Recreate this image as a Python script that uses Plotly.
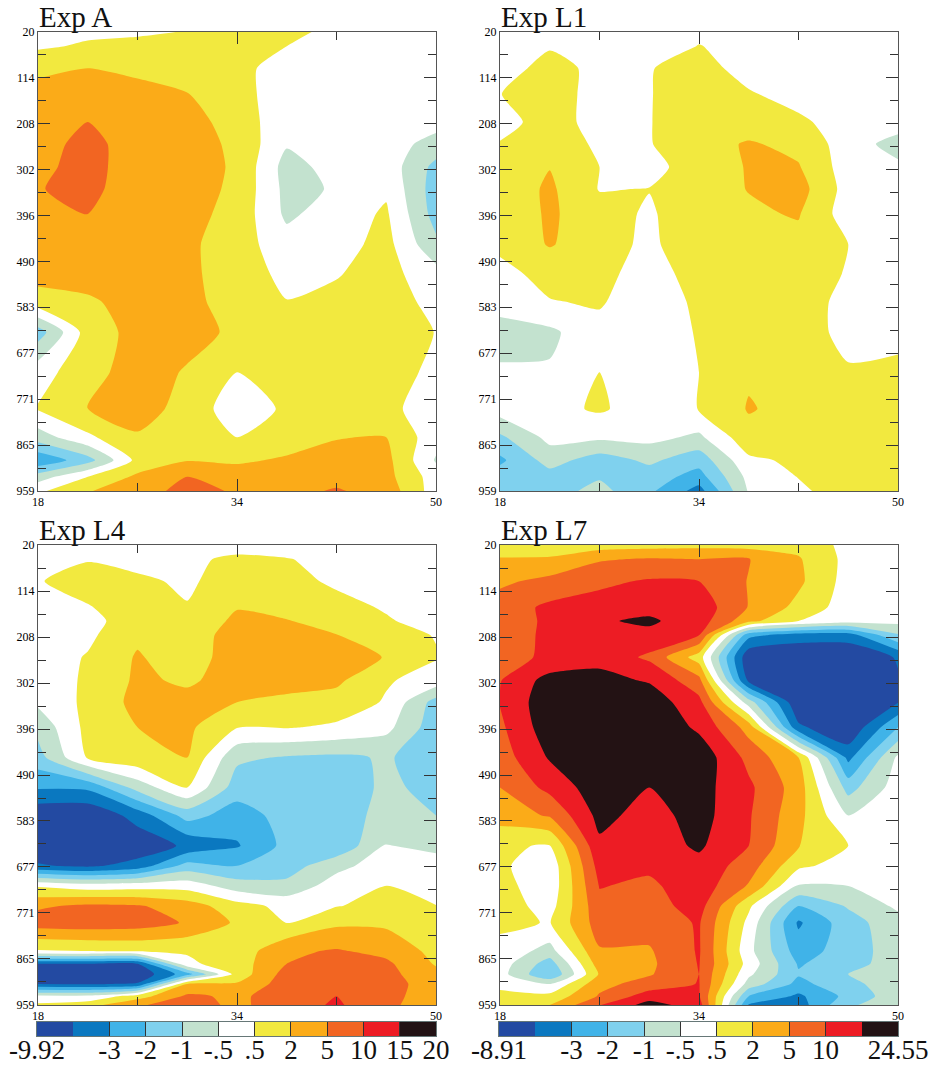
import plotly.graph_objects as go

# Longitudes (x) and levels (y) of the cross-section grids
X_GRID = [18, 22, 26, 30, 34, 38, 42, 46, 50]
Y_TOP = [20, 49, 94, 147, 204, 249, 296, 341, 392, 454, 515, 572, 634, 716, 791, 849, 896, 930, 959]
Y_BOTTOM = [20, 49, 94, 147, 175, 204, 249, 296, 341, 392, 454, 515, 572, 634, 675, 716, 757, 791,
            849, 875, 896, 916, 941, 959]

# Values are read from the colour bands, so they are stored as a position on the
# (evenly boxed) colour bar: 0 = lowest label, 11 = highest label.
EXP_A = [
    [5.7, 5.8, 5.9, 6.03, 6.33, 6.2, 5.8, 5.5, 5.5],
    [5.85, 6.13, 6.2, 6.33, 6.4, 6.0, 5.6, 5.5, 5.5],
    [6.8, 7.0, 6.8, 6.53, 6.33, 5.5, 5.5, 5.5, 5.5],
    [7.3, 7.4, 7.3, 7.03, 6.4, 5.4, 5.5, 5.5, 5.5],
    [7.43, 8.0, 7.43, 7.37, 6.6, 5.3, 5.5, 5.5, 5.4],
    [7.5, 8.4, 7.4, 7.43, 6.8, 5.1, 5.5, 5.5, 4.6],
    [7.67, 8.5, 7.27, 7.43, 6.87, 4.6, 5.4, 5.6, 3.7],
    [7.93, 8.4, 7.2, 7.43, 6.8, 4.7, 5.1, 5.85, 3.5],
    [7.5, 8.03, 7.33, 7.33, 6.67, 4.8, 5.5, 6.13, 3.6],
    [7.4, 7.43, 7.37, 7.2, 6.47, 5.4, 5.6, 6.33, 4.2],
    [7.33, 7.37, 7.43, 7.17, 6.6, 5.7, 5.95, 6.33, 5.4],
    [6.6, 6.87, 7.33, 7.3, 6.53, 6.03, 6.2, 6.47, 5.7],
    [3.5, 6.47, 7.33, 7.37, 6.8, 6.33, 6.47, 6.6, 5.97],
    [5.6, 6.6, 7.5, 6.9, 6.0, 6.23, 6.47, 6.47, 5.75],
    [6.07, 7.03, 7.4, 6.67, 5.4, 6.17, 6.53, 6.3, 5.4],
    [4.5, 5.8, 6.9, 6.4, 6.0, 6.33, 6.93, 7.0, 5.4],
    [2.2, 3.6, 6.3, 6.95, 6.8, 7.17, 7.5, 7.3, 4.9],
    [4.5, 6.0, 7.2, 8.0, 7.67, 7.43, 7.67, 7.33, 5.5],
    [5.8, 6.93, 7.6, 8.3, 7.9, 7.7, 8.1, 7.6, 5.5],
]
EXP_L1 = [
    [5.5, 5.5, 5.5, 5.5, 5.8, 5.5, 5.5, 5.5, 5.5],
    [5.5, 5.9, 5.5, 5.5, 6.03, 5.7, 5.5, 5.5, 5.5],
    [5.5, 6.4, 5.7, 5.95, 6.4, 5.6, 5.5, 5.5, 5.5],
    [5.98, 6.5, 5.6, 5.95, 6.6, 6.1, 5.6, 5.5, 5.5],
    [5.6, 6.47, 5.6, 5.95, 6.73, 6.47, 6.2, 5.5, 5.5],
    [6.07, 6.67, 5.8, 5.95, 6.6, 7.1, 6.73, 5.5, 4.6],
    [6.2, 6.97, 6.0, 5.6, 6.6, 7.05, 7.07, 5.5, 5.2],
    [6.33, 7.17, 5.95, 6.03, 6.6, 7.03, 7.4, 5.6, 5.5],
    [6.27, 7.15, 6.4, 5.87, 6.67, 6.87, 7.07, 5.5, 5.5],
    [6.23, 7.08, 6.4, 5.8, 6.67, 6.67, 6.73, 6.0, 5.5],
    [5.7, 6.33, 6.33, 5.5, 6.47, 6.67, 6.67, 5.9, 5.5],
    [5.3, 5.95, 6.1, 5.4, 6.2, 6.6, 6.47, 5.7, 5.5],
    [4.7, 4.8, 5.7, 5.5, 6.07, 6.53, 6.47, 5.7, 5.5],
    [5.1, 5.1, 6.0, 5.5, 6.0, 6.87, 6.6, 6.1, 6.4],
    [5.5, 5.7, 6.13, 5.5, 6.03, 7.07, 6.67, 6.73, 6.8],
    [3.8, 5.3, 5.2, 5.3, 4.8, 6.67, 6.5, 6.67, 6.8],
    [2.8, 4.4, 3.5, 4.2, 3.4, 5.8, 6.2, 6.67, 6.73],
    [3.5, 3.6, 3.9, 3.5, 2.6, 5.3, 6.03, 6.53, 6.67],
    [3.6, 3.6, 4.3, 3.2, 1.6, 5.1, 5.8, 6.53, 6.67],
]
EXP_L4 = [
    [5.5, 5.5, 5.5, 5.5, 5.6, 5.5, 5.5, 5.5, 5.5],
    [5.5, 5.95, 5.7, 5.8, 6.2, 6.05, 5.7, 5.5, 5.5],
    [5.95, 6.33, 6.17, 5.85, 6.47, 6.33, 5.83, 5.5, 5.5],
    [5.5, 5.95, 6.4, 6.05, 6.95, 6.67, 6.33, 5.9, 5.5],
    [5.5, 5.7, 6.5, 6.3, 7.2, 7.05, 6.6, 6.1, 5.6],
    [5.5, 5.8, 6.8, 6.6, 7.33, 7.5, 7.03, 6.4, 5.95],
    [5.5, 6.07, 7.1, 6.4, 7.6, 7.67, 7.5, 6.95, 6.07],
    [5.5, 6.13, 7.17, 6.85, 7.4, 7.5, 7.2, 6.1, 5.6],
    [5.2, 6.23, 7.3, 7.3, 7.0, 6.7, 6.6, 5.9, 3.6],
    [4.3, 6.3, 7.0, 7.2, 6.05, 6.07, 5.83, 5.3, 3.4],
    [3.6, 6.1, 6.73, 7.0, 4.2, 3.9, 3.8, 4.1, 3.5],
    [2.1, 2.2, 4.4, 6.0, 3.5, 3.4, 3.4, 4.2, 3.7],
    [0.2, 0.1, 1.4, 3.4, 2.5, 3.4, 3.4, 4.4, 4.0],
    [0.3, 0.1, 0.3, 1.2, 1.9, 3.3, 3.2, 5.05, 4.7],
    [1.1, 0.8, 1.4, 3.4, 3.0, 3.5, 4.7, 5.5, 5.5],
    [5.9, 5.5, 5.6, 5.6, 4.5, 4.3, 5.5, 6.02, 5.5],
    [7.85, 8.2, 8.1, 7.5, 6.4, 5.7, 5.97, 6.2, 6.03],
    [8.5, 8.6, 8.5, 7.9, 6.85, 5.98, 6.8, 6.8, 6.5],
    [5.9, 6.0, 6.1, 6.1, 6.4, 7.8, 8.1, 7.7, 6.7],
    [1.0, 1.0, 1.0, 5.8, 6.5, 8.0, 8.5, 8.2, 6.9],
    [0.3, 0.3, 0.2, 2.6, 6.4, 8.4, 8.6, 8.3, 7.3],
    [1.0, 0.9, 1.1, 7.0, 7.1, 8.5, 8.7, 8.4, 7.5],
    [5.2, 5.2, 6.5, 8.2, 7.8, 8.5, 9.0, 8.3, 7.5],
    [6.2, 6.6, 7.9, 8.4, 7.8, 8.5, 9.15, 8.2, 7.5],
]
EXP_L7 = [
    [6.3, 6.5, 6.5, 6.6, 6.7, 6.6, 6.7, 5.7, 5.5],
    [7.1, 7.1, 7.9, 8.1, 8.0, 8.05, 7.1, 5.7, 5.5],
    [7.8, 8.3, 8.8, 9.1, 9.0, 7.95, 7.2, 5.6, 5.5],
    [8.5, 9.2, 9.4, 9.7, 9.6, 7.95, 6.7, 5.5, 5.5],
    [8.7, 9.1, 9.9, 10.15, 9.5, 7.3, 6.0, 5.4, 5.3],
    [8.75, 9.1, 9.6, 9.75, 9.0, 2.3, 1.5, 1.5, 3.9],
    [8.8, 9.1, 9.7, 8.8, 6.5, 0.2, 0.1, 0.1, 1.1],
    [8.95, 10.4, 10.3, 9.9, 8.3, 0.7, 0.05, 0.05, 0.9],
    [9.05, 10.7, 10.9, 10.6, 9.3, 4.5, 0.1, 0.05, 0.95],
    [8.8, 10.6, 10.9, 10.9, 9.8, 7.6, 1.2, 0.1, 3.0],
    [8.5, 10.1, 10.8, 10.7, 10.7, 8.7, 7.0, 1.7, 5.2],
    [8.0, 9.3, 10.6, 10.0, 10.4, 9.2, 7.5, 3.6, 5.5],
    [7.5, 8.1, 10.3, 9.6, 10.4, 9.1, 7.3, 5.0, 5.6],
    [6.05, 5.97, 9.8, 9.5, 10.15, 9.0, 7.05, 6.0, 5.6],
    [6.2, 5.3, 9.4, 9.2, 9.7, 8.5, 6.2, 5.6, 5.6],
    [6.4, 5.3, 9.05, 8.8, 9.6, 7.9, 4.9, 5.0, 5.5],
    [6.5, 5.6, 8.7, 8.6, 9.4, 6.2, 3.0, 4.1, 5.2],
    [6.2, 5.95, 8.5, 8.4, 9.1, 5.7, 1.85, 3.6, 4.6],
    [5.7, 4.6, 7.9, 7.9, 9.1, 5.3, 2.5, 3.5, 4.5],
    [5.5, 3.5, 7.5, 7.8, 9.05, 5.6, 2.9, 3.6, 4.5],
    [5.4, 3.0, 7.1, 7.9, 9.0, 5.2, 3.1, 4.0, 4.5],
    [5.7, 5.0, 7.7, 8.4, 9.05, 4.6, 2.7, 3.7, 4.6],
    [6.3, 6.3, 8.1, 9.5, 9.1, 3.0, 1.8, 3.3, 4.6],
    [6.6, 7.0, 8.95, 10.4, 9.5, 1.9, 1.5, 3.9, 4.4],
]

BAND_COLORS = ["#234aa2", "#0a78c0", "#40b3e8", "#7fd1ee", "#c3e2cf", "#ffffff",
               "#f2e93f", "#fbab18", "#f26522", "#ed1c24", "#231214"]
BAR_TICKS_L4 = [0, 2, 3, 4, 5, 6, 7, 8, 9, 10, 11]
BAR_LABELS_L4 = ["-9.92", "-3", "-2", "-1", "-.5", ".5", "2", "5", "10", "15", "20"]
BAR_TICKS_L7 = [0, 2, 3, 4, 5, 6, 7, 8, 9, 11]
BAR_LABELS_L7 = ["-8.91", "-3", "-2", "-1", "-.5", ".5", "2", "5", "10", "24.55"]
Y_TICKS = [20, 114, 208, 302, 396, 490, 583, 677, 771, 865, 959]
Y_MINOR = [67, 161, 255, 349, 443, 537, 630, 724, 818, 912]
X_TICKS = [18, 34, 50]
X_MINOR = [26, 42]

W, H = 931, 1067
SERIF = "Liberation Serif"
scale = []
for i, c in enumerate(BAND_COLORS):
    scale += [[i / 11, c], [(i + 1) / 11, c]]

panels = [
    ("Exp A", EXP_A, Y_TOP, 38, 436, 32, 491),
    ("Exp L1", EXP_L1, Y_TOP, 500, 898, 32, 491),
    ("Exp L4", EXP_L4, Y_BOTTOM, 38, 436, 545, 1005),
    ("Exp L7", EXP_L7, Y_BOTTOM, 500, 898, 545, 1005),
]
bars = [
    (BAR_TICKS_L4, BAR_LABELS_L4, 37, 436),
    (BAR_TICKS_L7, BAR_LABELS_L7, 499, 898),
]

fig = go.Figure()
layout = dict(width=W, height=H, margin=dict(l=0, r=0, t=0, b=0, autoexpand=False), autosize=False,
              paper_bgcolor="white", plot_bgcolor="white", showlegend=False)
notes = []
for i, (title, z, ys, x0, x1, y0, y1) in enumerate(panels, start=1):
    fig.add_trace(go.Contour(
        x=X_GRID, y=ys, z=z, xaxis=f"x{i}", yaxis=f"y{i}",
        zmin=0, zmax=11, colorscale=scale, showscale=False, hoverinfo="skip",
        contours=dict(start=0, end=11, size=1, coloring="fill", showlines=False),
        line=dict(width=0, smoothing=0.6),
    ))
    layout[f"xaxis{i}"] = dict(
        domain=[x0 / W, x1 / W], anchor=f"y{i}", range=[18, 50], showgrid=False, zeroline=False,
        automargin=False, showline=True, linecolor="#555555", linewidth=1, mirror="allticks",
        layer="above traces", ticks="inside", ticklen=12, tickcolor="#333333", tickvals=X_TICKS,
        ticktext=[str(v) for v in X_TICKS], tickfont=dict(family=SERIF, size=12, color="#000000"),
        minor=dict(ticks="inside", ticklen=8, tickvals=X_MINOR, tickcolor="#333333"))
    layout[f"yaxis{i}"] = dict(
        domain=[1 - y1 / H, 1 - y0 / H], anchor=f"x{i}", range=[959, 20], showgrid=False, zeroline=False,
        automargin=False, showline=True, linecolor="#555555", linewidth=1, mirror="allticks",
        layer="above traces", ticks="inside", ticklen=12, tickcolor="#333333", tickvals=Y_TICKS,
        ticktext=[str(v) for v in Y_TICKS], tickfont=dict(family=SERIF, size=12, color="#000000"),
        minor=dict(ticks="inside", ticklen=8, tickvals=Y_MINOR, tickcolor="#333333"))
    notes.append(dict(text=title, xref="paper", yref="paper", x=x0 / W, y=1 - (y0 + 2) / H,
                      xanchor="left", yanchor="bottom", showarrow=False, borderpad=0,
                      font=dict(family=SERIF, size=29, color="#111111")))

for j, (ticks, labels, x0, x1) in enumerate(bars, start=5):
    fig.add_trace(go.Heatmap(
        x=[k + 0.5 for k in range(11)], y=[0], z=[[k + 0.5 for k in range(11)]],
        xaxis=f"x{j}", yaxis=f"y{j}", zmin=0, zmax=11, colorscale=scale,
        showscale=False, hoverinfo="skip",
    ))
    layout[f"xaxis{j}"] = dict(
        domain=[x0 / W, x1 / W], anchor=f"y{j}", range=[0, 11], showgrid=False, zeroline=False,
        automargin=False, showline=True, linecolor="#667777", linewidth=1, mirror=True,
        layer="above traces", ticks="inside", ticklen=14, tickcolor="#333333", tickvals=ticks,
        ticktext=labels, tickfont=dict(family=SERIF, size=27, color="#111111"),
        ticklabelstandoff=-10)
    layout[f"yaxis{j}"] = dict(
        domain=[1 - 1036 / H, 1 - 1022 / H], anchor=f"x{j}", range=[-0.5, 0.5], showgrid=False,
        automargin=False, zeroline=False, showticklabels=False, ticks="", showline=True,
        linecolor="#667777", linewidth=1, mirror=True)

fig.update_layout(annotations=notes, **layout)
fig.write_html("out.html", config={"displayModeBar": False},
               post_script="document.body.style.margin='0';")
